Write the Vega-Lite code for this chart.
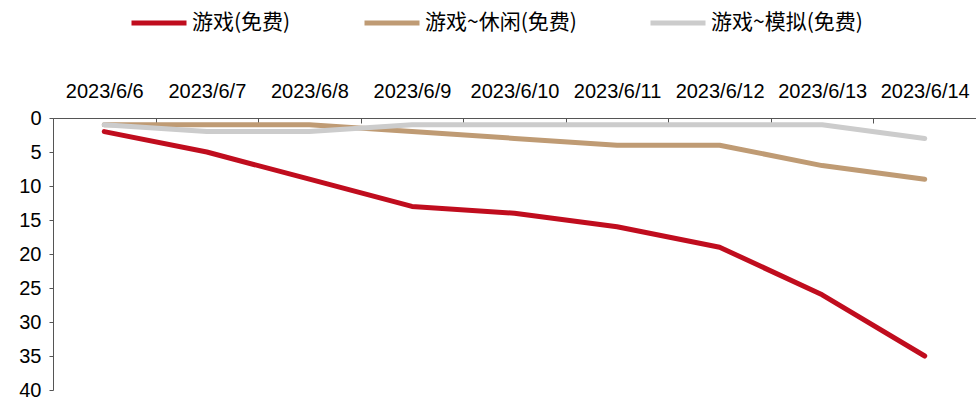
{
  "$schema": "https://vega.github.io/schema/vega-lite/v6.json",
  "autosize": {"type": "none"},
  "width": 923,
  "height": 272,
  "padding": {"left": 53, "top": 118, "right": 0, "bottom": 9},
  "background": "white",
  "config": {"view": {"stroke": null}},
  "data": {
    "values": [
      {"date": "2023/6/6", "series": "游戏(免费)", "rank": 2},
      {"date": "2023/6/7", "series": "游戏(免费)", "rank": 5},
      {"date": "2023/6/8", "series": "游戏(免费)", "rank": 9},
      {"date": "2023/6/9", "series": "游戏(免费)", "rank": 13},
      {"date": "2023/6/10", "series": "游戏(免费)", "rank": 14},
      {"date": "2023/6/11", "series": "游戏(免费)", "rank": 16},
      {"date": "2023/6/12", "series": "游戏(免费)", "rank": 19},
      {"date": "2023/6/13", "series": "游戏(免费)", "rank": 26},
      {"date": "2023/6/14", "series": "游戏(免费)", "rank": 35},
      {"date": "2023/6/6", "series": "游戏~休闲(免费)", "rank": 1},
      {"date": "2023/6/7", "series": "游戏~休闲(免费)", "rank": 1},
      {"date": "2023/6/8", "series": "游戏~休闲(免费)", "rank": 1},
      {"date": "2023/6/9", "series": "游戏~休闲(免费)", "rank": 2},
      {"date": "2023/6/10", "series": "游戏~休闲(免费)", "rank": 3},
      {"date": "2023/6/11", "series": "游戏~休闲(免费)", "rank": 4},
      {"date": "2023/6/12", "series": "游戏~休闲(免费)", "rank": 4},
      {"date": "2023/6/13", "series": "游戏~休闲(免费)", "rank": 7},
      {"date": "2023/6/14", "series": "游戏~休闲(免费)", "rank": 9},
      {"date": "2023/6/6", "series": "游戏~模拟(免费)", "rank": 1},
      {"date": "2023/6/7", "series": "游戏~模拟(免费)", "rank": 2},
      {"date": "2023/6/8", "series": "游戏~模拟(免费)", "rank": 2},
      {"date": "2023/6/9", "series": "游戏~模拟(免费)", "rank": 1},
      {"date": "2023/6/10", "series": "游戏~模拟(免费)", "rank": 1},
      {"date": "2023/6/11", "series": "游戏~模拟(免费)", "rank": 1},
      {"date": "2023/6/12", "series": "游戏~模拟(免费)", "rank": 1},
      {"date": "2023/6/13", "series": "游戏~模拟(免费)", "rank": 1},
      {"date": "2023/6/14", "series": "游戏~模拟(免费)", "rank": 3}
    ]
  },
  "mark": {"type": "line", "strokeWidth": 5, "strokeCap": "round", "strokeJoin": "round"},
  "encoding": {
    "x": {
      "field": "date",
      "type": "ordinal",
      "sort": null,
      "scale": {"type": "band", "paddingInner": 0, "paddingOuter": 0},
      "axis": {
        "orient": "top",
        "title": null,
        "labelAngle": 0,
        "labelFont": "Liberation Sans",
        "labelFontSize": 20,
        "labelColor": "#000000",
        "labelPadding": 22,
        "tickBand": "extent",
        "tickSize": -5,
        "tickColor": "#555555",
        "domainColor": "#555555",
        "grid": false
      }
    },
    "y": {
      "field": "rank",
      "type": "quantitative",
      "scale": {"domain": [0, 40], "reverse": true, "nice": false},
      "axis": {
        "title": null,
        "values": [0, 5, 10, 15, 20, 25, 30, 35, 40],
        "labelFont": "Liberation Sans",
        "labelFontSize": 20,
        "labelColor": "#000000",
        "labelPadding": 8,
        "tickSize": 4,
        "tickColor": "#555555",
        "domainColor": "#555555",
        "grid": false
      }
    },
    "color": {
      "field": "series",
      "type": "nominal",
      "sort": ["游戏(免费)", "游戏~休闲(免费)", "游戏~模拟(免费)"],
      "scale": {
        "domain": ["游戏(免费)", "游戏~休闲(免费)", "游戏~模拟(免费)"],
        "range": ["#C00D1E", "#BF9B74", "#CCCCCC"]
      },
      "legend": {
        "orient": "none",
        "legendX": 76,
        "legendY": -125,
        "direction": "horizontal",
        "title": null,
        "symbolType": "stroke",
        "symbolSize": 3025,
        "symbolStrokeWidth": 5,
        "labelFont": "Noto Sans CJK SC",
        "labelFontSize": 21,
        "labelColor": "#000000",
        "labelOffset": 3,
        "columnPadding": 63
      }
    }
  }
}
